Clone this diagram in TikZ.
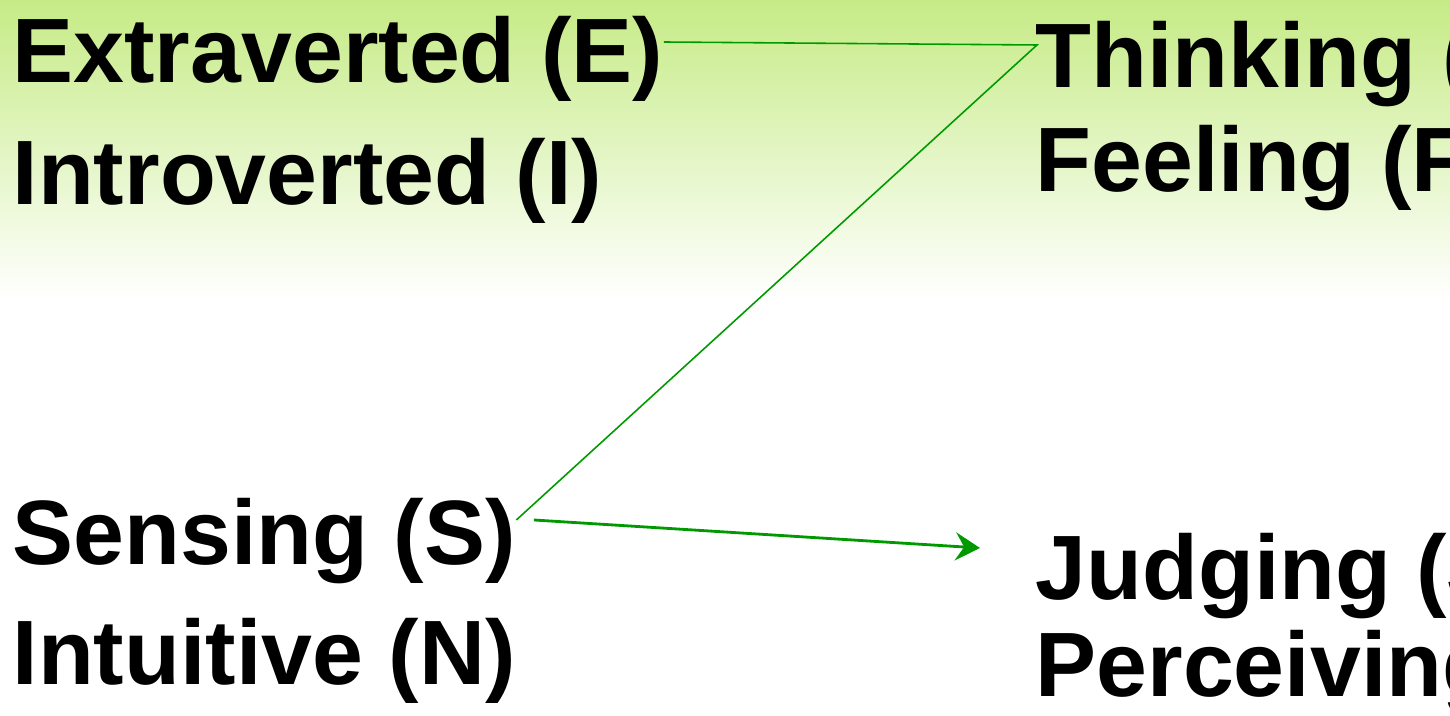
\documentclass[tikz,border=0pt]{standalone}
\usepackage{fontspec}
\setmainfont{Liberation Sans}
\usetikzlibrary{arrows.meta}
\definecolor{topgreen}{RGB}{198,235,134}
\definecolor{linkgreen}{RGB}{0,154,0}
\begin{document}
\begin{tikzpicture}[x=0.01cm,y=-0.01cm,
  lbl/.style={anchor=base west, inner sep=0pt,
    font=\fontsize{26}{30}\selectfont\bfseries},
  link/.style={draw=linkgreen, line width=0.45pt},
  pointer/.style={draw=linkgreen, line width=0.8pt,
    -{Stealth[length=7pt,width=8pt,inset=2.5pt]}}]
\useasboundingbox (0,0) rectangle (1450,716);
\clip (0,0) rectangle (1450,716);
% background: green wash fading to white
\fill[white] (0,0) rectangle (1450,716);
\shade[top color=topgreen, bottom color=white] (0,0) rectangle (1450,300);

% preference pairs
\node[lbl] (E) at (12,83)  {Extraverted (E)};
\node[lbl] (I) at (12,205) {Introverted (I)};
\node[lbl] (S) at (12,565) {Sensing (S)};
\node[lbl] (N) at (12,685) {Intuitive (N)};
\node[lbl] (T) at (1035,88)  {Thinking (T)};
\node[lbl] (F) at (1035,192) {Feeling (F)};
\node[lbl] (J) at (1035,600) {Judging (J)};
\node[lbl] (P) at (1035,697) {Perceiving (P)};

% connector levels and corner
\coordinate (eLevel) at (0,42);
\coordinate (sLevel) at (0,520);
\coordinate (bend) at (1037,45);
\coordinate (tip) at (980,548);

\draw[link] (E.east |- eLevel) -- (bend) -- (S.east |- sLevel);
\draw[pointer] ([xshift=5]S.east |- sLevel) -- (tip);
\end{tikzpicture}
\end{document}
